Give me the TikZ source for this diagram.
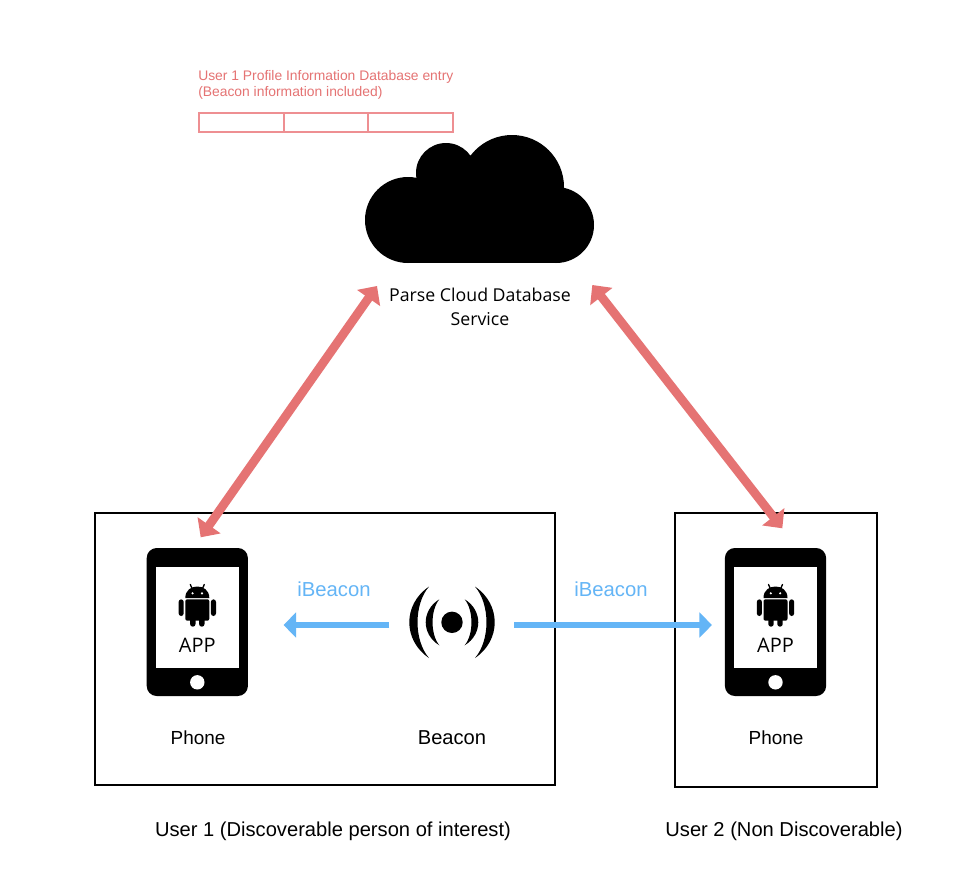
\documentclass[tikz,border=0pt]{standalone}
\usepackage{fontspec}
\setmainfont{Liberation Sans}
\newfontfamily\opensans{Open Sans}
\usetikzlibrary{arrows.meta}
\definecolor{redarrow}{HTML}{E57373}
\definecolor{redline}{HTML}{EE8F92}
\definecolor{bluearrow}{HTML}{64B5F6}
\tikzset{
  x=0.75pt,y=-0.75pt,
  userbox/.style={draw=black,line width=1.2pt},
  tablebox/.style={draw=redline,line width=1.1pt},
  redlink/.style={draw=redarrow,line width=6.6pt,{Triangle[length=11pt,width=20.5pt]}-{Triangle[length=11pt,width=20.5pt]}},
  bluelink/.style={draw=bluearrow,line width=4.8pt,-{Triangle[length=9.5pt,width=18.5pt]}},
  blacktext/.style={text=black,font=\fontsize{15.1pt}{17pt}\selectfont,inner sep=0pt},
  phonetext/.style={text=black,font=\fontsize{14.2pt}{17pt}\selectfont,inner sep=0pt},
  opentext/.style={text=black,font=\opensans\fontsize{13.3pt}{18pt}\selectfont,inner sep=0pt,align=center},
  apptext/.style={text=black,font=\opensans\fontsize{15pt}{18pt}\selectfont,inner sep=0pt},
  bluetext/.style={text=bluearrow,font=\fontsize{15.2pt}{17pt}\selectfont,inner sep=0pt},
  redtext/.style={text=redarrow,font=\fontsize{10.4pt}{12pt}\selectfont,inner sep=0pt,anchor=west},
  phonepic/.pic={
    \fill[black,rounded corners=7.5pt] (-50.6,-74) rectangle (50.6,74);
    \fill[white] (-41.3,-55) rectangle (41.7,46);
    \fill[white] (0,60.3) circle[radius=7.2];
    % android
    \fill[black] (-12,-24) .. controls (-12,-32) and (-6,-35.5) .. (0,-35.5) .. controls (6,-35.5) and (12,-32) .. (12,-24) -- cycle;
    \draw[black,line width=1pt,line cap=round] (-5,-33) -- (-7,-37.5) (5,-33) -- (7,-37.5);
    \fill[white] (-4.7,-28.7) circle[radius=1.2] (4.7,-28.7) circle[radius=1.2];
    \fill[black,rounded corners=1.5pt] (-12,-22.7) -- (12,-22.7) -- (12,-1.3) -- (-12,-1.3) -- cycle;
    \fill[black,rounded corners=2pt] (-18.7,-22.7) rectangle (-13.6,-6);
    \fill[black,rounded corners=2pt] (13.6,-22.7) rectangle (18.7,-6);
    \fill[black,rounded corners=2pt] (-7.2,-5) rectangle (-1.8,4.7);
    \fill[black,rounded corners=2pt] (1.8,-5) rectangle (7.2,4.7);
    \node[apptext] at (0,23) {APP};
  }
}
\begin{document}
\begin{tikzpicture}
\useasboundingbox (0,0) rectangle (975,896);
\fill[white] (0,0) rectangle (975,896);

% table
\node[redtext] (title1) at (198,77) {User 1 Profile Information Database entry};
\node[redtext] (title2) at (198,93) {(Beacon information included)};
\draw[tablebox] (199,113) rectangle (453,132);
\draw[tablebox] (284,113) -- (284,132) (368,113) -- (368,132);

% cloud
\fill[black] (408,220) circle[radius=43] (446,173) circle[radius=30]
  (512,187) circle[radius=52] (556,225) circle[radius=38];
\fill[black] (408,190) rectangle (556,263);
\node[opentext] (cloudlabel) at (480,307) {Parse Cloud Database\\Service};

% boxes
\draw[userbox] (95,513) rectangle (555,785);
\draw[userbox] (675,513) rectangle (877,787);

% phones
\pic (phoneA) at (197.3,622) {phonepic};
\pic (phoneB) at (775.5,622) {phonepic};
\node[phonetext] (phoneAlabel) at (198,738) {Phone};
\node[phonetext] (phoneBlabel) at (776,738) {Phone};
\node[blacktext] (beaconlabel) at (452,738) {Beacon};

% beacon
\begin{scope}[shift={(452,622.3)}]
  \fill[black] (0,0) circle[radius=10.7];
  \foreach \s in {-1,1}{
    \fill[black] (\s*23,-35.7) .. controls (\s*49.3,-18) and (\s*49.3,18) .. (\s*23,35.7)
       .. controls (\s*38.3,18) and (\s*38.3,-18) .. (\s*23,-35.7) -- cycle;
    \fill[black] (\s*12.7,-23) .. controls (\s*30.8,-12) and (\s*30.8,12) .. (\s*12.7,23)
       .. controls (\s*21.7,12) and (\s*21.7,-12) .. (\s*12.7,-23) -- cycle;
  }
\end{scope}

% connectors
\coordinate (cloudL) at (377,286);
\coordinate (cloudR) at (592.3,285);
\coordinate (phoneAtop) at (200.7,537.3);
\coordinate (phoneBtop) at (782.3,528.3);
\coordinate (beaconL) at (389,625);
\coordinate (beaconR) at (514,625);
\coordinate (phoneAin) at (283.5,625);
\coordinate (phoneBin) at (712,625);
\draw[redlink] (cloudL) -- (phoneAtop);
\draw[redlink] (cloudR) -- (phoneBtop);
\draw[bluelink] (beaconL) -- (phoneAin);
\draw[bluelink] (beaconR) -- (phoneBin);
\node[bluetext] (ib1) at (334,589) {iBeacon};
\node[bluetext] (ib2) at (611,589) {iBeacon};

\node[blacktext] (user1) at (333,831.5) {User 1 (Discoverable person of interest)};
\node[blacktext] (user2) at (784,831.5) {User 2 (Non Discoverable)};
\end{tikzpicture}
\end{document}
